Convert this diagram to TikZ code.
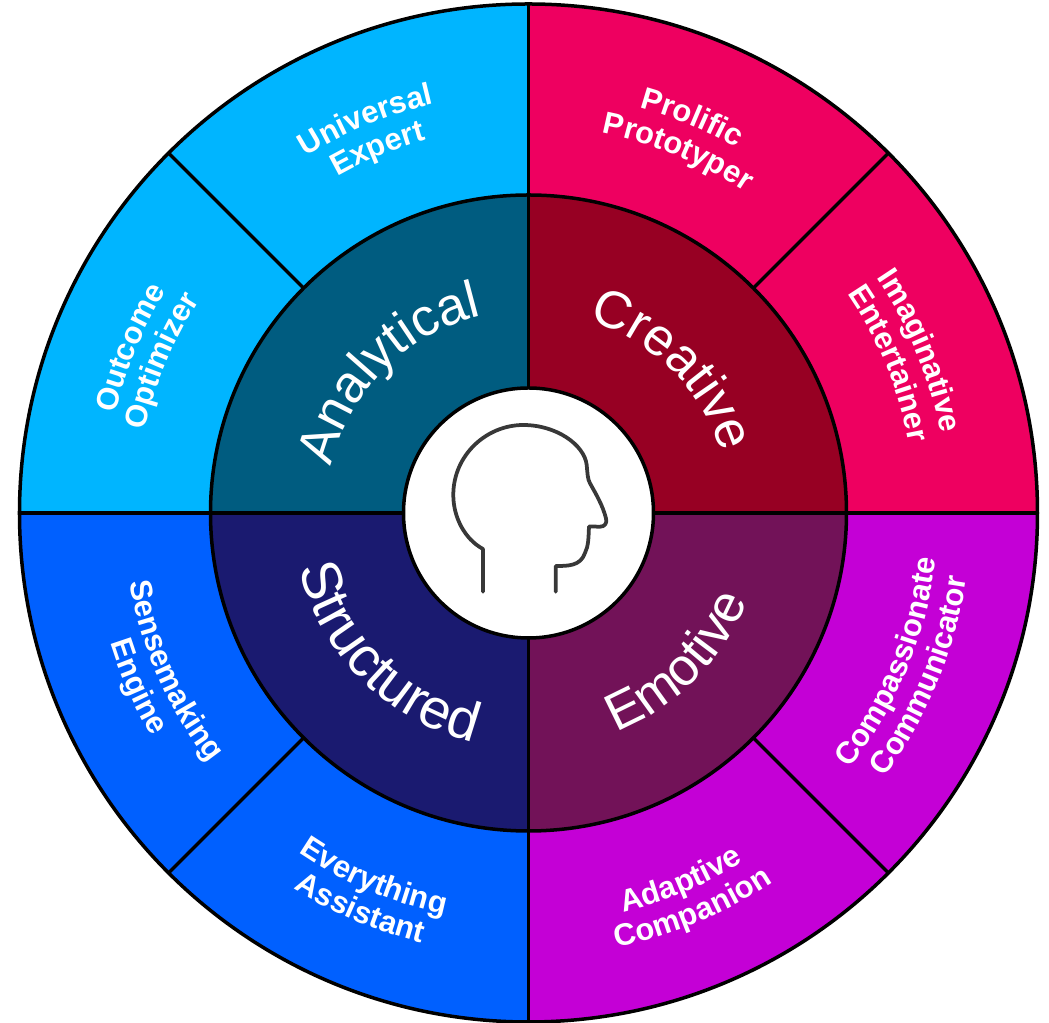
\documentclass[tikz,border=0pt]{standalone}
\usepackage{fontspec}
\setmainfont{Liberation Sans}
\usetikzlibrary{decorations.text}
\tikzset{
  bigtext/.style={decorate, decoration={text along path, text align=center, text={|\fontsize{30}{32}\selectfont\color{white}|#1}}},
  widetext/.style={decorate, decoration={text along path, text align=center, text={|\fontsize{32}{34}\selectfont\color{white}|#1}}},
  smalltext/.style={decorate, decoration={text along path, text align=center, text={|\fontsize{17.6}{19}\selectfont\bfseries\color{white}|#1}}},
  ring/.style={draw=black, line width=0.07cm},
  headline/.style={draw=black!78, line width=0.075cm, line cap=round, line join=round}
}
\begin{document}
\begin{tikzpicture}[x=0.02cm, y=0.02cm]
\useasboundingbox (-528.5,-510) rectangle (520.5,513);
% outer band
\definecolor{col}{HTML}{00B5FF}
\fill[col] (0,0) -- (90:509) arc[start angle=90, end angle=180, radius=509] -- cycle;
\definecolor{col}{HTML}{EE0060}
\fill[col] (0,0) -- (0:509) arc[start angle=0, end angle=90, radius=509] -- cycle;
\definecolor{col}{HTML}{C400D6}
\fill[col] (0,0) -- (270:509) arc[start angle=270, end angle=360, radius=509] -- cycle;
\definecolor{col}{HTML}{0060FF}
\fill[col] (0,0) -- (180:509) arc[start angle=180, end angle=270, radius=509] -- cycle;
% inner band
\definecolor{col}{HTML}{005C80}
\fill[col] (0,0) -- (90:318) arc[start angle=90, end angle=180, radius=318] -- cycle;
\definecolor{col}{HTML}{970023}
\fill[col] (0,0) -- (0:318) arc[start angle=0, end angle=90, radius=318] -- cycle;
\definecolor{col}{HTML}{721258}
\fill[col] (0,0) -- (270:318) arc[start angle=270, end angle=360, radius=318] -- cycle;
\definecolor{col}{HTML}{1A1A70}
\fill[col] (0,0) -- (180:318) arc[start angle=180, end angle=270, radius=318] -- cycle;
% rings and dividers
\draw[ring] (0:125) -- (0:509) (90:125) -- (90:509) (180:125) -- (180:509) (270:125) -- (270:509);
\draw[ring] (45:318) -- (45:509) (135:318) -- (135:509) (225:318) -- (225:509) (315:318) -- (315:509);
\draw[ring] (0,0) circle[radius=509];
\draw[ring] (0,0) circle[radius=318];
\draw[ring, fill=white] (0,0) circle[radius=125];
% head
\draw[headline] (-45.5,-78.7) -- (-45.5,-36) .. controls (-64,-26) and (-75.2,-4) .. (-75.2,18)
  .. controls (-75.2,58) and (-42,88) .. (-5.2,88) .. controls (28,88) and (56,68) .. (58.2,48)
  .. controls (59,40) and (59,34) .. (61.5,29.7) .. controls (68,18) and (74,8) .. (77.5,-5.3)
  .. controls (79,-10) and (76,-14) .. (71.5,-13.7) -- (60.5,-13.5)
  .. controls (60,-25) and (60,-33) .. (56.5,-40) .. controls (52,-53) and (40,-53) .. (27.2,-53)
  -- (27.2,-78.7);
% big labels
\path[bigtext=Analytical] (170:203) arc[start angle=170, end angle=100, radius=203];
\path[bigtext=Creative] (100:202) arc[start angle=100, end angle=-10, radius=202];
\path[bigtext=Emotive] (280:236) arc[start angle=280, end angle=350, radius=236];
\path[widetext=Structured] (170:236) arc[start angle=170, end angle=280, radius=236];
% small labels
\path[smalltext=Universal] (135:420) arc[start angle=135, end angle=90, radius=420];
\path[smalltext=Expert] (135:387) arc[start angle=135, end angle=90, radius=387];
\path[smalltext=Outcome] (180:425) arc[start angle=180, end angle=135, radius=425];
\path[smalltext=Optimizer] (180:392) arc[start angle=180, end angle=135, radius=392];
\path[smalltext=Prolific] (90:420) arc[start angle=90, end angle=45, radius=420];
\path[smalltext=Prototyper] (90:387) arc[start angle=90, end angle=45, radius=387];
\path[smalltext=Imaginative] (45:420) arc[start angle=45, end angle=0, radius=420];
\path[smalltext=Entertainer] (45:387) arc[start angle=45, end angle=0, radius=387];
\path[smalltext=Compassionate] (315:410) arc[start angle=315, end angle=360, radius=410];
\path[smalltext=Communicator] (315:443) arc[start angle=315, end angle=360, radius=443];
\path[smalltext=Adaptive] (270:410) arc[start angle=270, end angle=315, radius=410];
\path[smalltext=Companion] (270:443) arc[start angle=270, end angle=315, radius=443];
\path[smalltext=Everything] (224.5:410) arc[start angle=224.5, end angle=269.5, radius=410];
\path[smalltext=Assistant] (224.5:443) arc[start angle=224.5, end angle=269.5, radius=443];
\path[smalltext=Sensemaking] (181.5:405) arc[start angle=181.5, end angle=226.5, radius=405];
\path[smalltext=Engine] (181.5:438) arc[start angle=181.5, end angle=226.5, radius=438];
\end{tikzpicture}
\end{document}
